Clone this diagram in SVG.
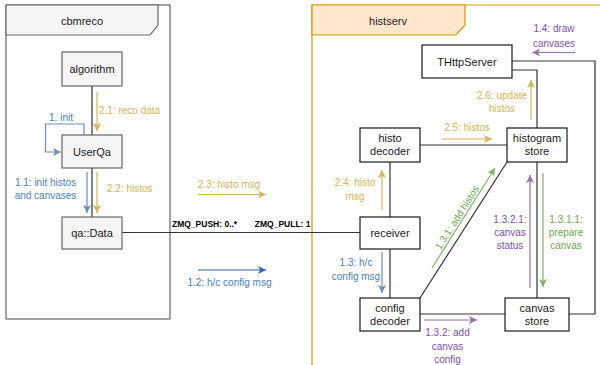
<svg xmlns="http://www.w3.org/2000/svg" width="600" height="365" viewBox="0 0 600 365">
  <style>
    text { font-family: "Liberation Sans", Arial, sans-serif; }
    .title { font-size: 11px; fill: #1a1a1a; text-anchor: middle; }
    .node-grey rect { fill: #f5f5f5; stroke: #666666; stroke-width: 1.2; }
    .node-white rect { fill: #ffffff; stroke: #1a1a1a; stroke-width: 1.2; }
    .node-grey text, .node-white text { font-size: 11px; fill: #1a1a1a; text-anchor: middle; }
    .conn { fill: none; stroke: #333333; stroke-width: 1.2; }
    .lbl { font-size: 10px; text-anchor: middle; }
    .lbl-start { font-size: 10px; text-anchor: start; }
    .gold { fill: #d6b656; }
    .blue { fill: #4a7fc1; }
    .purple { fill: #7e4fb0; }
    .green { fill: #6ea84e; }
    .zmq { font-size: 8.5px; font-weight: bold; fill: #000000; }
    .a-gold { stroke: #d6b656; stroke-width: 1.2; fill: none; marker-end: url(#mGold); }
    .a-blue { stroke: #6c8ebf; stroke-width: 1.2; fill: none; marker-end: url(#mBlue); }
    .a-blued { stroke: #2e65ad; stroke-width: 1.2; fill: none; marker-end: url(#mBlueD); }
    .a-purple { stroke: #9673a6; stroke-width: 1.2; fill: none; marker-end: url(#mPurple); }
    .a-green { stroke: #82b366; stroke-width: 1.2; fill: none; marker-end: url(#mGreen); }
  </style>
  <defs>
    <marker id="mGold" markerUnits="userSpaceOnUse" markerWidth="10" markerHeight="10" refX="8" refY="4" orient="auto">
      <path d="M0,0 L8,4 L0,8 L2,4 z" fill="#d6b656"/>
    </marker>
    <marker id="mBlue" markerUnits="userSpaceOnUse" markerWidth="10" markerHeight="10" refX="8" refY="4" orient="auto">
      <path d="M0,0 L8,4 L0,8 L2,4 z" fill="#6c8ebf"/>
    </marker>
    <marker id="mBlueD" markerUnits="userSpaceOnUse" markerWidth="10" markerHeight="10" refX="8" refY="4" orient="auto">
      <path d="M0,0 L8,4 L0,8 L2,4 z" fill="#2e65ad"/>
    </marker>
    <marker id="mPurple" markerUnits="userSpaceOnUse" markerWidth="10" markerHeight="10" refX="8" refY="4" orient="auto">
      <path d="M0,0 L8,4 L0,8 L2,4 z" fill="#9673a6"/>
    </marker>
    <marker id="mGreen" markerUnits="userSpaceOnUse" markerWidth="10" markerHeight="10" refX="8" refY="4" orient="auto">
      <path d="M0,0 L8,4 L0,8 L2,4 z" fill="#82b366"/>
    </marker>
  </defs>

  <rect x="0" y="0" width="600" height="365" fill="#ffffff"/>

  <!-- frame: cbmreco -->
  <g id="frame-cbmreco">
    <rect x="6" y="5" width="164" height="314" fill="#ffffff" stroke="#666666" stroke-width="1.2"/>
    <path d="M6,5 H158 V25 L150,35 H6 Z" fill="#f5f5f5" stroke="#666666" stroke-width="1.2"/>
    <text class="title" x="82" y="24.5">cbmreco</text>
  </g>

  <!-- frame: histserv -->
  <g id="frame-histserv">
    <path d="M312,366 V5 H601" fill="#ffffff" stroke="#d79b00" stroke-width="1.2"/>
    <path d="M312,5 H465 V25 L456,35 H312 Z" fill="#ffe6cc" stroke="#d79b00" stroke-width="1.2"/>
    <text class="title" x="388" y="24.5">histserv</text>
  </g>

  <!-- connectors -->
  <g id="connectors">
    <path class="conn" d="M92,86 V135"/>
    <path class="conn" d="M92,168 V217"/>
    <path class="conn" stroke="#555555" d="M122,232.5 H360"/>
    <path class="conn" d="M512,61 H595 V314 H569"/>
    <path class="conn" d="M512,70 H537 V128"/>
    <path class="conn" d="M420,145 H507"/>
    <path class="conn" d="M390,162 V217"/>
    <path class="conn" d="M390,249 V298"/>
    <path class="conn" d="M420,298 L507,162"/>
    <path class="conn" d="M537,162 V298"/>
    <path class="conn" d="M420,314 H505"/>
    <text class="zmq" x="172" y="227">ZMQ_PUSH: 0..*</text>
    <text class="zmq" x="310.5" y="227" text-anchor="end">ZMQ_PULL: 1</text>
  </g>

  <!-- cbmreco nodes -->
  <g id="algorithm" class="node-grey">
    <rect x="62" y="52" width="60" height="34"/>
    <text x="92" y="73">algorithm</text>
  </g>
  <g id="userqa" class="node-grey">
    <rect x="62" y="135" width="60" height="33"/>
    <text x="92" y="155.5">UserQa</text>
  </g>
  <g id="qa-data" class="node-grey">
    <rect x="62" y="217" width="60" height="32"/>
    <text x="92" y="237">qa::Data</text>
  </g>

  <!-- histserv nodes -->
  <g id="thttpserver" class="node-white">
    <rect x="422" y="45" width="90" height="33"/>
    <text x="467" y="65.5">THttpServer</text>
  </g>
  <g id="histo-decoder" class="node-white">
    <rect x="360" y="128" width="60" height="34"/>
    <text x="390" y="142">histo</text>
    <text x="390" y="155">decoder</text>
  </g>
  <g id="histogram-store" class="node-white">
    <rect x="507" y="128" width="60" height="34"/>
    <text x="537" y="142">histogram</text>
    <text x="537" y="155">store</text>
  </g>
  <g id="receiver" class="node-white">
    <rect x="360" y="217" width="60" height="32"/>
    <text x="390" y="237">receiver</text>
  </g>
  <g id="config-decoder" class="node-white">
    <rect x="360" y="298" width="60" height="33"/>
    <text x="390" y="311.5">config</text>
    <text x="390" y="324.5">decoder</text>
  </g>
  <g id="canvas-store" class="node-white">
    <rect x="505" y="298" width="64" height="33"/>
    <text x="537" y="311.5">canvas</text>
    <text x="537" y="324.5">store</text>
  </g>

  <!-- message arrows and labels -->
  <g id="messages">
    <!-- 1. init (self call) -->
    <path class="a-blue" d="M84,135 V124 H45.5 V152 H61"/>
    <text class="lbl blue" x="61" y="121">1. init</text>

    <!-- 2.1 reco data -->
    <path class="a-gold" d="M97,92 V131"/>
    <text class="lbl-start gold" x="99" y="113.5">2.1: reco data</text>

    <!-- 1.1 init histos and canvases -->
    <path class="a-blue" d="M87,172 V213"/>
    <text class="lbl blue" x="45.5" y="186">1.1: init histos</text>
    <text class="lbl blue" x="45.5" y="199">and canvases</text>

    <!-- 2.2 histos -->
    <path class="a-gold" d="M97,172 V213"/>
    <text class="lbl-start gold" x="107" y="192">2.2: histos</text>

    <!-- 2.3 histo msg -->
    <path class="a-gold" d="M198,194.5 H266"/>
    <text class="lbl gold" x="229" y="187.5">2.3: histo msg</text>

    <!-- 1.2 h/c config msg -->
    <path class="a-blued" d="M198,270 H266"/>
    <text class="lbl blue" x="229.5" y="286">1.2: h/c config msg</text>

    <!-- 1.4 draw canvases -->
    <path class="a-purple" d="M575,52.5 H532"/>
    <text class="lbl purple" x="554" y="32">1.4: draw</text>
    <text class="lbl purple" x="554" y="46.5">canvases</text>

    <!-- 2.6 update histos -->
    <path class="a-gold" d="M531,120 V80"/>
    <text class="lbl gold" x="502" y="98.5">2.6: update</text>
    <text class="lbl gold" x="502" y="112">histos</text>

    <!-- 2.5 histos -->
    <path class="a-gold" d="M442,139 H492"/>
    <text class="lbl gold" x="467" y="131">2.5: histos</text>

    <!-- 2.4 histo msg -->
    <path class="a-gold" d="M382,210 V170"/>
    <text class="lbl gold" x="355" y="186">2.4: histo</text>
    <text class="lbl gold" x="355" y="200">msg</text>

    <!-- 1.3.1 add histos -->
    <path class="a-green" d="M432,268 L495,168"/>
    <text class="lbl green" transform="translate(457,217.5) rotate(-57.8)" x="0" y="3.5">1.3.1: add histos</text>

    <!-- 1.3.2.1 canvas status -->
    <path class="a-purple" d="M530,288 V175"/>
    <text class="lbl purple" x="510" y="223">1.3.2.1:</text>
    <text class="lbl purple" x="510" y="236">canvas</text>
    <text class="lbl purple" x="510" y="249">status</text>

    <!-- 1.3.1.1 prepare canvas -->
    <path class="a-green" d="M543,173 V287"/>
    <text class="lbl green" x="566" y="223">1.3.1.1:</text>
    <text class="lbl green" x="566" y="236">prepare</text>
    <text class="lbl green" x="566" y="249">canvas</text>

    <!-- 1.3 h/c config msg -->
    <path class="a-blue" d="M382,252 V293"/>
    <text class="lbl blue" x="356" y="266">1.3: h/c</text>
    <text class="lbl blue" x="356" y="279.5">config msg</text>

    <!-- 1.3.2 add canvas config -->
    <path class="a-purple" d="M424,320 H477"/>
    <text class="lbl purple" x="447.5" y="336">1.3.2: add</text>
    <text class="lbl purple" x="447.5" y="349.5">canvas</text>
    <text class="lbl purple" x="447.5" y="363">config</text>
  </g>
</svg>
